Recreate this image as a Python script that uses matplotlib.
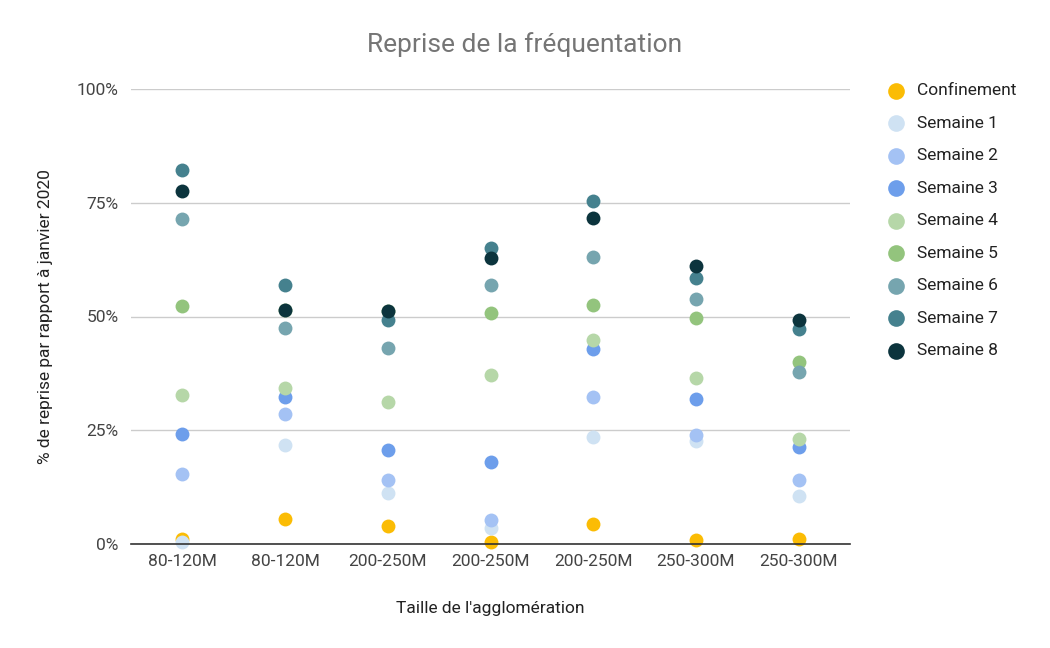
import numpy as np
import matplotlib.pyplot as plt
from matplotlib.ticker import FuncFormatter

plt.rcParams['font.family'] = ['Roboto', 'DejaVu Sans']

categories = ["80-120M", "80-120M", "200-250M", "200-250M", "200-250M", "250-300M", "250-300M"]

series_names = ["Confinement", "Semaine 1", "Semaine 2", "Semaine 3", "Semaine 4",
                "Semaine 5", "Semaine 6", "Semaine 7", "Semaine 8"]

confinement = [1.0, 5.6, 4.0, 0.5, 4.4, 0.9, 1.0]
semaine_1 = [0.5, 21.7, 11.1, 3.6, 23.5, 22.7, 10.5]
semaine_2 = [15.3, 28.6, 14.0, 5.3, 32.2, 23.9, 14.1]
semaine_3 = [24.1, 32.2, 20.6, 18.1, 42.9, 31.9, 21.3]
semaine_4 = [32.7, 34.2, 31.1, 37.1, 44.8, 36.5, 23.1]
semaine_5 = [52.2, 51.5, 51.2, 50.8, 52.5, 49.7, 40.1]
semaine_6 = [71.4, 47.5, 43.0, 56.9, 63.0, 53.8, 37.7]
semaine_7 = [82.1, 56.9, 49.3, 65.0, 75.3, 58.5, 47.3]
semaine_8 = [77.6, 51.4, 51.3, 62.8, 71.6, 61.1, 49.2]

all_series = [confinement, semaine_1, semaine_2, semaine_3, semaine_4,
              semaine_5, semaine_6, semaine_7, semaine_8]

colors = ["#fbbc04", "#cfe2f3", "#a4c2f4", "#6d9eeb", "#b6d7a8",
          "#93c47d", "#76a5af", "#45818e", "#0c343d"]

fig = plt.figure(figsize=(10.5, 6.48), dpi=100)
ax = fig.add_axes([131 / 1050, 104 / 648, 719 / 1050, 455 / 648])

x = np.arange(len(categories))
for name, vals, col in zip(series_names, all_series, colors):
    ax.scatter(x, vals, s=100, color=col, label=name, linewidths=0, zorder=3, clip_on=False)

ax.set_xlim(-0.5, len(categories) - 0.5)
ax.set_ylim(0, 100)
ax.set_yticks([0, 25, 50, 75, 100])
ax.yaxis.set_major_formatter(FuncFormatter(lambda v, p: f"{int(v)}%"))
ax.set_xticks(x)
ax.set_xticklabels(categories)

ax.grid(axis='y', color='#cccccc', linewidth=1, zorder=0)
for side in ['top', 'right', 'left']:
    ax.spines[side].set_visible(False)
ax.spines['bottom'].set_color('#333333')
ax.spines['bottom'].set_linewidth(1.2)
ax.spines['bottom'].set_zorder(4)
ax.tick_params(axis='both', length=0, labelsize=12.5, colors='#444444')
ax.tick_params(axis='x', pad=7)
ax.tick_params(axis='y', pad=9)

ax.set_xlabel("Taille de l'agglomération", fontsize=12.5, color='#222222', labelpad=23)
ax.set_ylabel("% de reprise par rapport à janvier 2020", fontsize=12.5, color='#222222', labelpad=17)
fig.text(525 / 1050, 1 - 45 / 648, "Reprise de la fréquentation", ha='center', va='center',
         fontsize=19, color='#757575')

leg = ax.legend(loc='upper left', bbox_to_anchor=(877 / 1050, 1 - 76 / 648),
                bbox_transform=fig.transFigure, frameon=False, fontsize=12.5,
                labelspacing=1.0, handlelength=1.4, handletextpad=0.5,
                borderaxespad=0, markerscale=1.2)
for t in leg.get_texts():
    t.set_color('#222222')

plt.savefig('out.png', dpi=100)
